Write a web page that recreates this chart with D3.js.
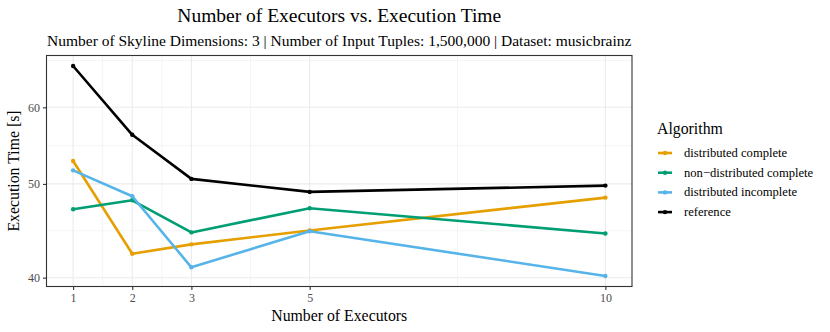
<!DOCTYPE html>
<style>
body { margin: 0; background-color: #FFFFFF; }
text { font-family: "Liberation Serif", "DejaVu Serif", serif; }
</style>
<svg width="830" height="332"></svg>
<script src="https://d3js.org/d3.v7.min.js"></script>
<script>

var executors = [1, 2, 3, 5, 10];
var seriesNames = ["distributed complete", "non\u2212distributed complete", "distributed incomplete", "reference"];
var distComplete = [52.8, 42.35, 43.3, 44.76, 48.4];
var nonDistComplete = [47.07, 48.09, 44.55, 47.19, 44.44];
var distIncomplete = [51.64, 48.55, 41.0, 44.68, 40.16];
var referenceTimes = [66.2, 56.2, 50.6, 49.06, 49.8];
var yTicks = [40, 50, 60];
var colors = ["#E69F00", "#009E73", "#56B4E9", "#000000"];

var series = [distComplete, nonDistComplete, distIncomplete, referenceTimes].map(function(vals, i) {
  return {name: seriesNames[i], color: colors[i],
          points: vals.map(function(v, j) { return {x: executors[j], y: v}; })};
});

var svg = d3.select("svg"),
    margin = {top: 55.5, right: 198, bottom: 45.5, left: 46.5},
    width = 830 - margin.left - margin.right,
    height = 332 - margin.top - margin.bottom,
    g = svg.append("g").attr("transform", "translate(" + margin.left + "," + margin.top + ")");

// ggplot-like 5% expansion
var xMin = d3.min(executors), xMax = d3.max(executors), xPad = (xMax - xMin) * 0.05;
var x = d3.scaleLinear().domain([xMin - xPad, xMax + xPad]).range([0, width]);

var all = d3.merge(series.map(function(s) { return s.points.map(function(p) { return p.y; }); }));
var lmin = Math.log10(d3.min(all)), lmax = Math.log10(d3.max(all)), lpad = (lmax - lmin) * 0.05;
var y = d3.scaleLog().domain([Math.pow(10, lmin - lpad), Math.pow(10, lmax + lpad)]).range([height, 0]);

// minor breaks: midpoints (in transformed space) between majors, extended one step
var xMinor = [];
for (var i = 0; i < executors.length - 1; i++) xMinor.push((executors[i] + executors[i + 1]) / 2);
var ext = [yTicks[0] / (yTicks[1] / yTicks[0])].concat(yTicks, [yTicks[yTicks.length - 1] * (yTicks[1] / yTicks[0])]);
var yMinor = [];
for (var i = 0; i < ext.length - 1; i++) yMinor.push(Math.sqrt(ext[i] * ext[i + 1]));
yMinor = yMinor.filter(function(v) { return v > y.domain()[0] && v < y.domain()[1]; });

g.selectAll(".yminor").data(yMinor).enter().append("line")
    .attr("x1", 0).attr("x2", width)
    .attr("y1", function(d) { return y(d); }).attr("y2", function(d) { return y(d); })
    .attr("stroke", "#ebebeb").attr("stroke-width", 0.55);
g.selectAll(".xminor").data(xMinor).enter().append("line")
    .attr("y1", 0).attr("y2", height)
    .attr("x1", function(d) { return x(d); }).attr("x2", function(d) { return x(d); })
    .attr("stroke", "#ebebeb").attr("stroke-width", 0.55);
g.selectAll(".ymajor").data(yTicks).enter().append("line")
    .attr("x1", 0).attr("x2", width)
    .attr("y1", function(d) { return y(d); }).attr("y2", function(d) { return y(d); })
    .attr("stroke", "#ebebeb").attr("stroke-width", 1.1);
g.selectAll(".xmajor").data(executors).enter().append("line")
    .attr("y1", 0).attr("y2", height)
    .attr("x1", function(d) { return x(d); }).attr("x2", function(d) { return x(d); })
    .attr("stroke", "#ebebeb").attr("stroke-width", 1.1);

var line = d3.line().x(function(d) { return x(d.x); }).y(function(d) { return y(d.y); });

var sg = g.selectAll(".series").data(series).enter().append("g");
sg.append("path")
    .attr("d", function(d) { return line(d.points); })
    .attr("fill", "none")
    .attr("stroke", function(d) { return d.color; })
    .attr("stroke-width", 2.6)
    .attr("stroke-linejoin", "round");
sg.selectAll("circle").data(function(d) { return d.points.map(function(p) { return {p: p, c: d.color}; }); })
  .enter().append("circle")
    .attr("cx", function(d) { return x(d.p.x); })
    .attr("cy", function(d) { return y(d.p.y); })
    .attr("r", 2.2)
    .attr("fill", function(d) { return d.c; });

g.append("rect")
    .attr("width", width).attr("height", height)
    .attr("fill", "none").attr("stroke", "#333333").attr("stroke-width", 1.1);

var xAxis = g.append("g")
    .attr("transform", "translate(0," + height + ")")
    .call(d3.axisBottom(x).tickValues(executors).tickSize(3.5).tickPadding(3).tickFormat(d3.format("d")));
var yAxis = g.append("g")
    .call(d3.axisLeft(y).tickValues(yTicks).tickSize(3.5).tickPadding(3).tickFormat(d3.format("d")));
[xAxis, yAxis].forEach(function(a) {
  a.select(".domain").remove();
  a.selectAll("line").attr("stroke", "#333333").attr("stroke-width", 1.1);
  a.selectAll("text").attr("fill", "#4d4d4d").attr("font-size", 12)
    .attr("font-family", "Liberation Serif, serif");
});

svg.append("text")
    .attr("x", margin.left + width / 2).attr("y", 22)
    .attr("text-anchor", "middle").attr("font-size", 19.5)
    .text("Number of Executors vs. Execution Time");
svg.append("text")
    .attr("x", margin.left + width / 2).attr("y", 46)
    .attr("text-anchor", "middle").attr("font-size", 15.5)
    .text("Number of Skyline Dimensions: 3 | Number of Input Tuples: 1,500,000 | Dataset: musicbrainz");
svg.append("text")
    .attr("x", margin.left + width / 2).attr("y", 321)
    .attr("text-anchor", "middle").attr("font-size", 15.8)
    .text("Number of Executors");
svg.append("text")
    .attr("transform", "translate(19," + (margin.top + height / 2) + ") rotate(-90)")
    .attr("text-anchor", "middle").attr("font-size", 15.8)
    .text("Execution Time [s]");

// legend
var legend = svg.append("g").attr("transform", "translate(657,0)");
legend.append("text").attr("x", 0).attr("y", 134).attr("font-size", 15.8).text("Algorithm");
var item = legend.selectAll(".item").data(series).enter().append("g")
    .attr("transform", function(d, i) { return "translate(0," + (153 + i * 19.7) + ")"; });
item.append("line").attr("x1", 1).attr("x2", 15)
    .attr("stroke", function(d) { return d.color; }).attr("stroke-width", 2.6);
item.append("circle").attr("cx", 8).attr("r", 2.2).attr("fill", function(d) { return d.color; });
item.append("text").attr("x", 27).attr("dy", "0.32em").attr("font-size", 12.6)
    .text(function(d) { return d.name; });

</script>
